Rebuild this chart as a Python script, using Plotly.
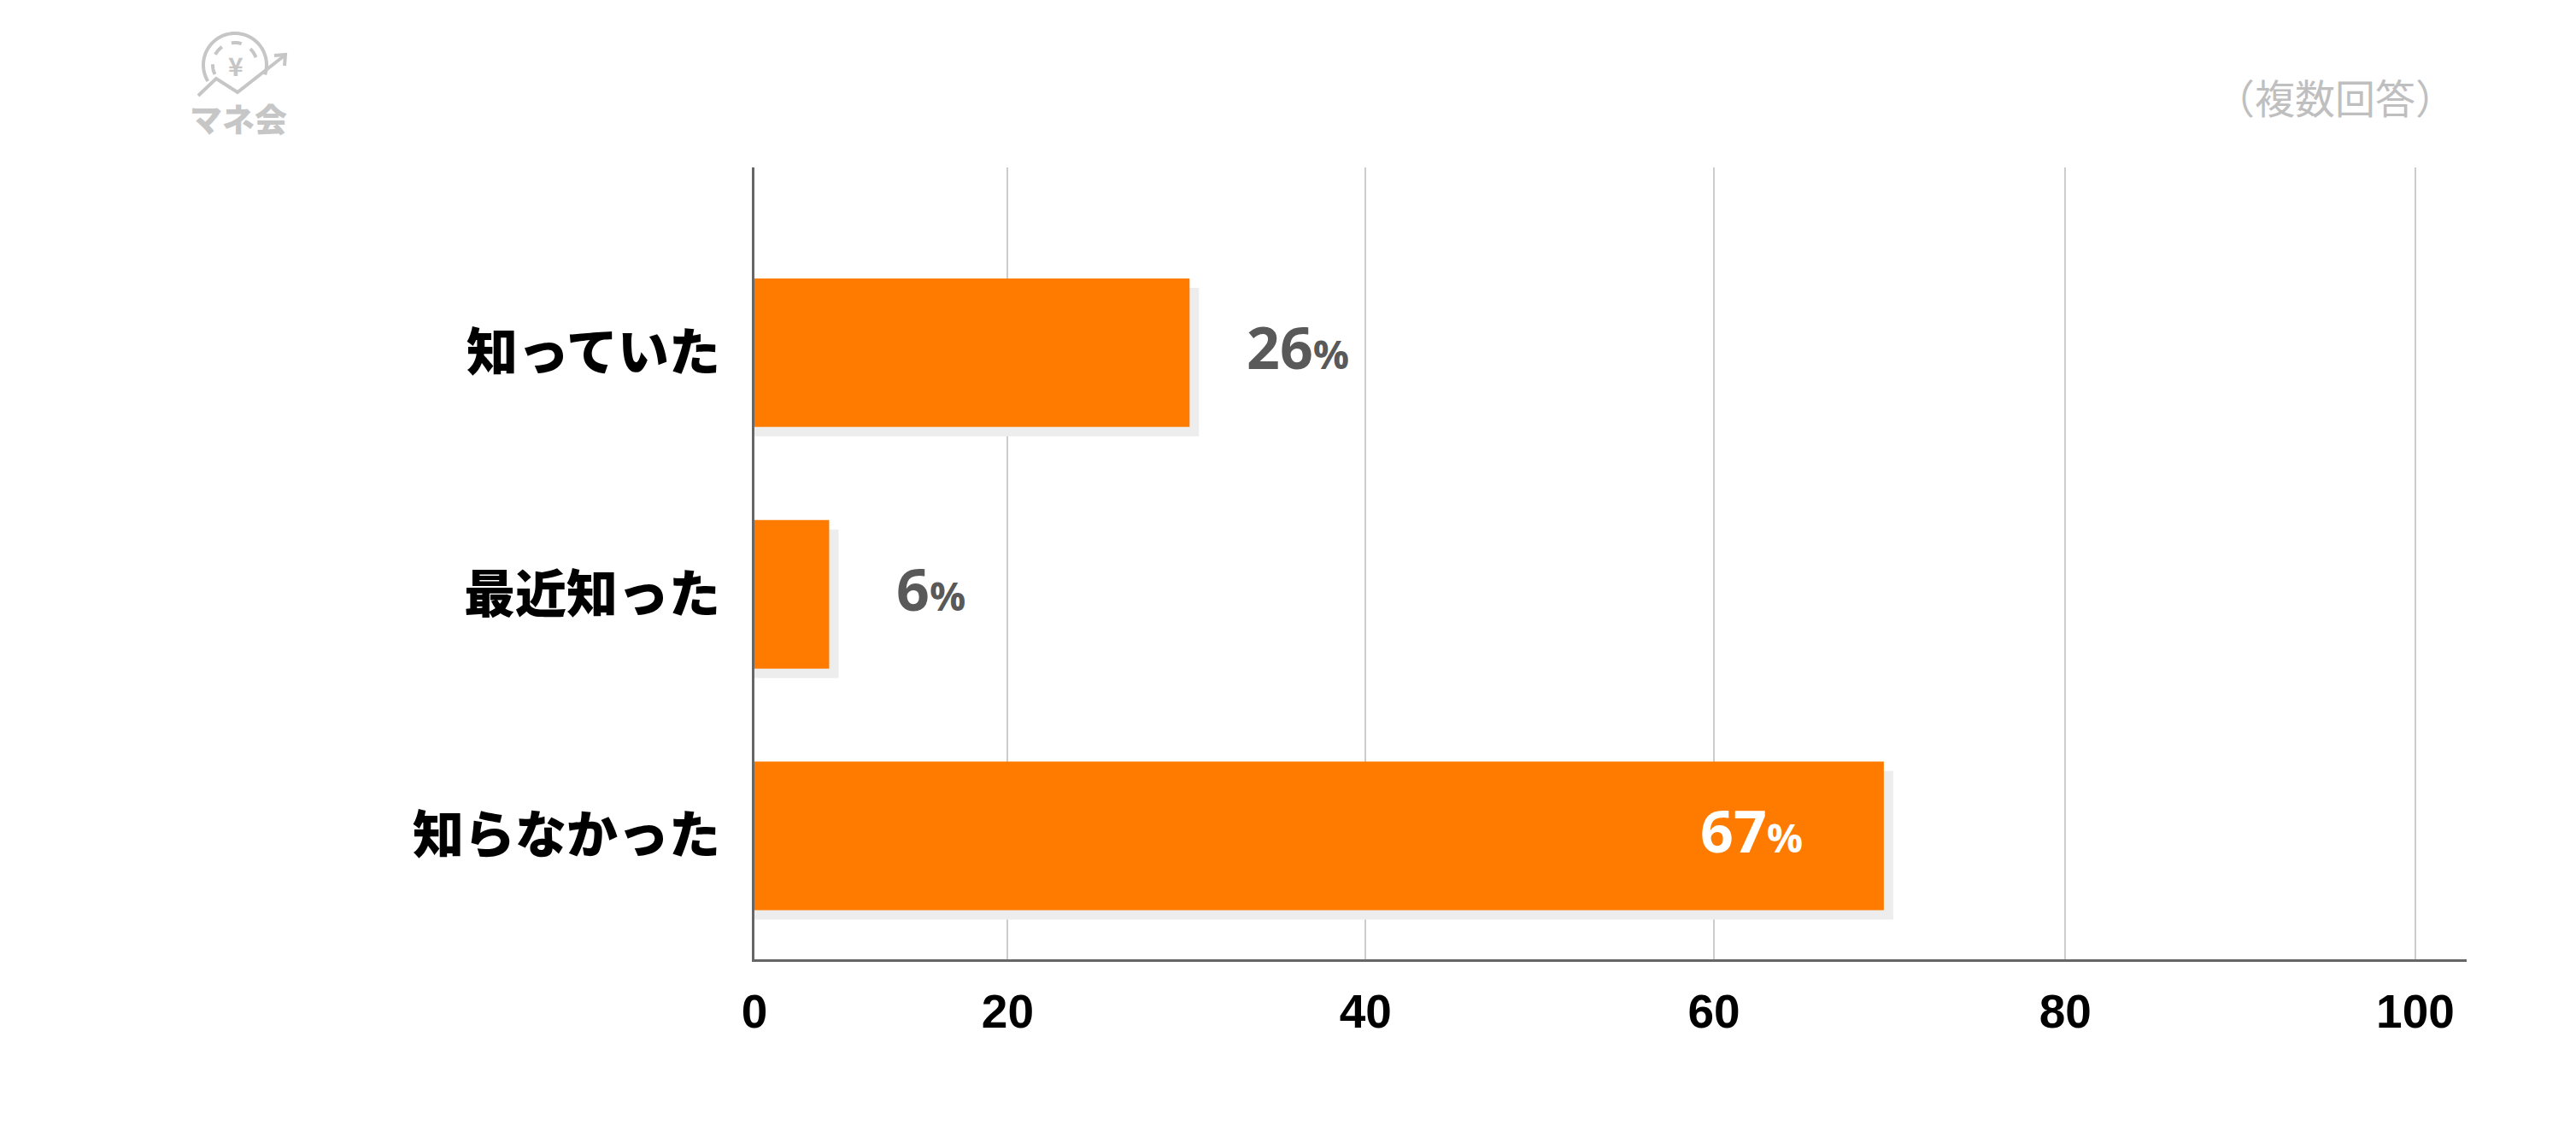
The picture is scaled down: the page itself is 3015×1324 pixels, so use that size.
import numpy as np
import plotly.graph_objects as go

# ---------------- data ----------------
categories = ["知っていた", "最近知った", "知らなかった"]
bar_values = [26.2, 4.5, 68.0]            # bar lengths read against the axis
value_labels = ["26", "6", "67"]           # printed percentages
tick_positions = [0, 15.25, 36.8, 57.77, 78.93, 100]
tick_labels = ["0", "20", "40", "60", "80", "100"]
note_text = "（複数回答）"
logo_text = "マネ会"

# ---------------- styles ----------------
W, H = 3015, 1324
ML, MR, MT, MB = 883, 128, 196, 201
PW, PH = W - ML - MR, H - MT - MB
X_MAX = 103.09
BAR_W = 0.615
ORANGE = "#FF7B00"
SHADOW = "#EDEDED"
PX_PER_UNIT = PW / X_MAX
SH_DX = 11 / PX_PER_UNIT
SH_DY = 11 / 282.8
label_style = [  # (xshift px, anchor, color)
    (65, "left", "#595959"),
    (77, "left", "#595959"),
    (-93, "right", "#FFFFFF"),
]


def pp(x, y):
    """pixel -> paper coordinates"""
    return (x - ML) / PW, (H - MB - y) / PH


fig = go.Figure()

# shadow
fig.add_trace(go.Bar(
    y=categories, x=[v + SH_DX for v in bar_values], orientation="h",
    marker=dict(color=SHADOW, line=dict(width=0)),
    width=BAR_W, offset=-BAR_W / 2 + SH_DY, hoverinfo="skip", showlegend=False,
))
# bars
fig.add_trace(go.Bar(
    y=categories, x=bar_values, orientation="h",
    marker=dict(color=ORANGE, line=dict(width=0)),
    width=BAR_W, offset=-BAR_W / 2, hoverinfo="skip", showlegend=False,
))

# value labels
for cat, v, lab, (dx, anc, col) in zip(categories, bar_values, value_labels, label_style):
    fig.add_annotation(
        x=v, y=cat, xref="x", yref="y", xanchor=anc, yanchor="middle",
        xshift=dx, yshift=7, showarrow=False,
        text=f"{lab}<span style='font-size:47px'>%</span>",
        font=dict(family="Open Sans", size=68, color=col, weight=700),
    )

# note top right
x0, y0 = pp(2733, 113)
fig.add_annotation(
    x=x0, y=y0, xref="paper", yref="paper", xanchor="center", yanchor="middle",
    showarrow=False, text=note_text,
    font=dict(family="Noto Sans CJK JP", size=47, color="#BFBFBF"),
)

# ---------- logo ----------
LOGO = "#C6C6C6"
shapes = []


def path_from(points):
    pts = [pp(x, y) for x, y in points]
    return "M " + " L ".join(f"{a:.5f},{b:.5f}" for a, b in pts)


cx, cy, r = 275, 76, 37
ang = np.radians(np.linspace(211, -18, 60))
outer = [(cx + r * np.cos(a), cy - r * np.sin(a)) for a in ang]
shapes.append(dict(type="path", xref="paper", yref="paper", path=path_from(outer),
                   line=dict(color=LOGO, width=4)))
ang2 = np.radians(np.linspace(205, 15, 50))
inner = [(cx + 26 * np.cos(a), cy - 26 * np.sin(a)) for a in ang2]
shapes.append(dict(type="path", xref="paper", yref="paper", path=path_from(inner),
                   line=dict(color=LOGO, width=4, dash="dash")))
arrow = [(232, 112), (253, 92), (278, 108), (333, 65)]
shapes.append(dict(type="path", xref="paper", yref="paper", path=path_from(arrow),
                   line=dict(color=LOGO, width=4)))
shapes.append(dict(type="path", xref="paper", yref="paper",
                   path=path_from([(321, 65), (334, 64), (333, 77)]),
                   line=dict(color=LOGO, width=4)))
lx, ly = pp(276, 76)
fig.add_annotation(x=lx, y=ly, xref="paper", yref="paper", showarrow=False,
                   xanchor="center", yanchor="middle", text="¥",
                   font=dict(family="Noto Sans CJK JP", size=30, color=LOGO, weight=700))
tx, ty = pp(279, 138)
fig.add_annotation(x=tx, y=ty, xref="paper", yref="paper", showarrow=False,
                   xanchor="center", yanchor="middle", text=logo_text,
                   font=dict(family="Noto Sans CJK JP", size=38, color=LOGO, weight=900))

fig.update_layout(
    width=W, height=H, autosize=False,
    margin=dict(l=ML, r=MR, t=MT, b=MB, pad=0),
    paper_bgcolor="white", plot_bgcolor="white",
    barmode="overlay", showlegend=False, shapes=shapes,
    xaxis=dict(
        range=[0, X_MAX], tickmode="array", tickvals=tick_positions, ticktext=tick_labels,
        showgrid=True, gridcolor="#CCCCCC", gridwidth=2, zeroline=False,
        showline=True, linecolor="#666666", linewidth=3,
        ticks="", ticklabelstandoff=11,
        tickfont=dict(family="Liberation Sans, Arial", size=55, color="black", weight=700),
        fixedrange=True,
    ),
    yaxis=dict(
        type="category", categoryorder="array", categoryarray=categories,
        range=[2.511, -0.767], showgrid=False, zeroline=False,
        showline=True, linecolor="#666666", linewidth=3,
        ticks="", ticklabelstandoff=25,
        tickfont=dict(family="Noto Sans CJK JP", size=60, color="black", weight=900),
        fixedrange=True,
    ),
)

fig.write_html("out.html", config={"displayModeBar": False},
               post_script="document.body.style.margin='0';")
